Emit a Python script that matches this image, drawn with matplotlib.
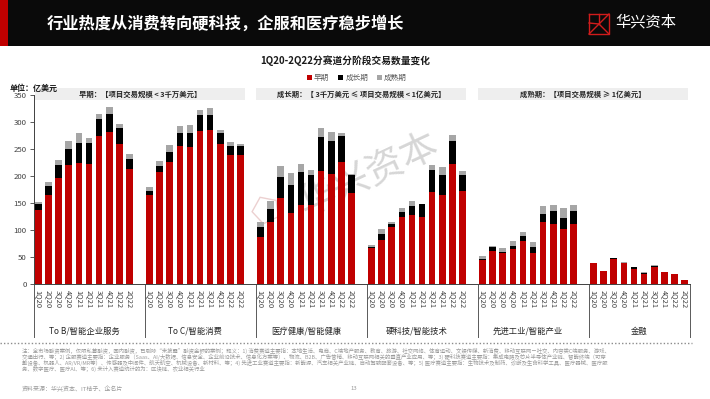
import matplotlib
matplotlib.use("Agg")
import matplotlib.pyplot as plt
from matplotlib.patches import Rectangle, Patch, Polygon
from matplotlib.lines import Line2D
import matplotlib.transforms as mtransforms
import numpy as np

plt.rcParams['font.family'] = ['Noto Sans CJK SC', 'DejaVu Sans']

# data (segment heights, 亿美元)
quarters = ['1Q20', '2Q20', '3Q20', '4Q20', '1Q21', '2Q21', '3Q21', '4Q21', '1Q22', '2Q22']
sectors = ['To B/智能企业服务', 'To C/智能消费', '医疗健康/智能健康',
           '硬科技/智能技术', '先进工业/智能产业', '金融']

tob_early = [137, 165, 197, 220, 224, 222, 274, 281, 260, 213]
tob_growth = [11, 16, 24, 30, 38, 40, 32, 34, 29, 19]
tob_mature = [4, 7, 8, 14, 18, 9, 9, 13, 8, 8]

toc_early = [165, 207, 226, 255, 253, 283, 285, 259, 239, 239]
toc_growth = [8, 11, 18, 24, 27, 30, 28, 21, 16, 16]
toc_mature = [6, 10, 13, 14, 15, 10, 12, 5, 8, 4]

med_early = [87, 115, 160, 132, 147, 146, 210, 204, 226, 169]
med_growth = [18, 23, 39, 51, 60, 55, 62, 60, 48, 33]
med_mature = [9, 16, 19, 22, 15, 11, 16, 18, 6, 2]

tech_early = [66, 82, 105, 124, 127, 125, 171, 165, 222, 173]
tech_growth = [3, 10, 6, 9, 18, 23, 40, 37, 43, 29]
tech_mature = [4, 9, 3, 8, 8, 0, 10, 14, 10, 7]

ind_early = [44, 62, 58, 64, 79, 58, 115, 112, 102, 111]
ind_growth = [3, 6, 2, 7, 10, 10, 15, 24, 21, 24]
ind_mature = [5, 3, 6, 8, 8, 9, 14, 10, 18, 11]

fin_early = [38, 24, 46, 39, 27, 18, 31, 22, 18, 7]
fin_growth = [1, 0, 3, 0, 5, 3, 3, 0, 1, 0]
fin_mature = [0.5, 0, 0, 1, 0, 1, 1, 1, 0, 0]

early = [tob_early, toc_early, med_early, tech_early, ind_early, fin_early]
growth = [tob_growth, toc_growth, med_growth, tech_growth, ind_growth, fin_growth]
mature = [tob_mature, toc_mature, med_mature, tech_mature, ind_mature, fin_mature]

stage_boxes = ['早期：【项目交易规模 < 3千万美元】',
               '成长期：【 3千万美元 ≤ 项目交易规模 < 1亿美元】',
               '成熟期：【项目交易规模 ≥ 1亿美元】']
stage_names = ['早期', '成长期', '成熟期']

RED = '#C00000'
BLACK = '#000000'
GRAY = '#A6A6A6'

W, H = 710, 399
fig = plt.figure(figsize=(W / 100, H / 100), dpi=100)
fig.patch.set_facecolor('white')


def fx(x):
    return x / W


def fy(y):
    return 1 - y / H


# header band
fig.add_artist(Rectangle((0, fy(46)), 1, 46 / H, transform=fig.transFigure,
                         facecolor='#0a0a0a', edgecolor='none'))
fig.add_artist(Rectangle((0, fy(46)), fx(8), 46 / H, transform=fig.transFigure,
                         facecolor=RED, edgecolor='none'))
fig.text(fx(47), fy(24), '行业热度从消费转向硬科技，企服和医疗稳步增长', color='white',
         fontsize=11.7, fontweight='bold', va='center', ha='left')

# logo
lx, ly, ls = 589, 14, 20
logo_pts = [
    [(lx, ly), (lx + ls, ly), (lx + ls, ly + ls), (lx, ly + ls), (lx, ly)],
    [(lx, ly + ls), (lx + ls, ly)],
    [(lx + ls * 0.5, ly + ls * 0.5), (lx + ls, ly + ls)],
    [(lx, ly + ls * 0.45), (lx + ls * 0.5, ly + ls * 0.5)],
    [(lx + ls * 0.5, ly), (lx + ls * 0.5, ly + ls * 0.5)],
]
for seg in logo_pts:
    xs = [fx(p[0]) for p in seg]
    ys = [fy(p[1]) for p in seg]
    fig.add_artist(Line2D(xs, ys, transform=fig.transFigure, color='#d01c1c', lw=1.0))
fig.text(fx(615), fy(22), '华兴资本', color='white', fontsize=11, fontweight='light',
         va='center', ha='left')

# chart title, unit, legend
fig.text(fx(345), fy(61), '1Q20-2Q22分赛道分阶段交易数量变化', fontsize=7,
         fontweight='bold', ha='center', va='center', color='#1a1a1a')
fig.text(fx(10), fy(88), '单位：亿美元', fontsize=5.8, fontweight='bold',
         ha='left', va='center', color='#1a1a1a')
handles = [Patch(facecolor=c, edgecolor='none') for c in (RED, BLACK, GRAY)]
fig.legend(handles, stage_names, loc='center', bbox_to_anchor=(fx(357), fy(78)),
           ncol=3, frameon=False, fontsize=5.5, handlelength=0.6, handleheight=0.6,
           handletextpad=0.3, columnspacing=1.2, labelcolor='#595959')

# stage header boxes
box_x = [(35, 245), (256, 466), (478, 688)]
for (x0, x1), label in zip(box_x, stage_boxes):
    fig.add_artist(Rectangle((fx(x0), fy(100)), fx(x1 - x0), 12 / H,
                             transform=fig.transFigure, facecolor='#eeeeee',
                             edgecolor='none'))
    fig.text(fx((x0 + x1) / 2), fy(94), label, fontsize=5.3, fontweight='bold',
             ha='center', va='center', color='#262626')

# main axes
ax_left, ax_right, ax_top, ax_bottom = 33.5, 689.5, 95, 284
ax = fig.add_axes([fx(ax_left), fy(ax_bottom), fx(ax_right - ax_left),
                   (ax_bottom - ax_top) / H])
ax.set_facecolor('none')

# watermark, behind the bars
ax.text(fx(368), fy(175), '华兴资本', transform=fig.transFigure, fontsize=27,
        fontweight='light', rotation=25, ha='center', va='center',
        color='#d6d6d6', zorder=1)
cx, cy, r = 266, 210, 14
ang = np.deg2rad(np.array([90, 162, 234, 306, 18]) + 25)
ax.add_patch(Polygon(np.column_stack([fx(cx + r * np.cos(ang)), fy(cy - r * np.sin(ang))]),
                     closed=True, transform=fig.transFigure, fill=False,
                     edgecolor='#ecd0d0', lw=1.0, zorder=1))

xpos, xlabels = [], []
for g in range(len(sectors)):
    x = np.arange(len(quarters)) + g * 11
    e = np.array(early[g], dtype=float)
    gr = np.array(growth[g], dtype=float)
    m = np.array(mature[g], dtype=float)
    ax.bar(x, e, width=0.66, color=RED, zorder=2)
    ax.bar(x, gr, width=0.66, bottom=e, color=BLACK, zorder=2)
    ax.bar(x, m, width=0.66, bottom=e + gr, color=GRAY, zorder=2)
    xpos.extend(x)
    xlabels.extend(quarters)

n_cat = 11 * len(sectors) - 1
ax.set_xlim(-0.5, n_cat - 0.5)
ax.set_ylim(0, 350)
ax.set_yticks(np.arange(0, 351, 50))
ax.tick_params(axis='y', labelsize=5.6, labelcolor='#404040', length=3,
               width=0.6, color='#404040', pad=2)
ax.set_xticks(xpos)
ax.set_xticklabels(xlabels, rotation=-90, fontsize=5.4, color='#404040')
ax.tick_params(axis='x', length=0, pad=4)
for s in ('top', 'right'):
    ax.spines[s].set_visible(False)
for s in ('left', 'bottom'):
    ax.spines[s].set_color('#404040')
    ax.spines[s].set_linewidth(0.7)

trans = mtransforms.blended_transform_factory(ax.transData, ax.transAxes)
sep_depth = -(337 - ax_bottom) / (ax_bottom - ax_top)
for b in [-0.5] + [g * 11 + 10.5 for g in range(len(sectors) - 1)] + [n_cat - 0.5]:
    ax.plot([b, b], [0, sep_depth], transform=trans, color='#595959', lw=0.7,
            clip_on=False)
for g, name in enumerate(sectors):
    ax.text(g * 11 + 4.5, -(331 - ax_bottom) / (ax_bottom - ax_top), name,
            transform=trans, ha='center', va='center', fontsize=6, color='#262626')

# footer
fig.add_artist(Line2D([0, fx(692)], [fy(343), fy(343)], transform=fig.transFigure,
                      color='#8c8c8c', lw=1.0, linestyle=(0, (1, 1.5))))
notes = [
    '注：全市场融资案例，仅限私募融资，国内融资，已剔除“未披露”融资金额的案例；释义：1) 消费赛道主要指：本地生活、电商、C端地产服务、教育、旅游、社交网络、体育运动、文娱传媒、新消费、移动互联网－社交、内容类C端服务、游戏、',
    '交通出行、等；2) 企服赛道主要指：企业服务（Saas、AI/大数据、信息安全、企业前沿技术、信息化方案等）、物流、B2B、广告营销、移动互联网相关的垂直产业应用、等；3) 硬科技赛道主要指：集成电路及芯片半导体产业链、智能终端（可穿',
    '戴设备、机器人、AR/VR/MR等）、传感器及中间件、航天航空、机械设备、新材料、等；4) 先进工业赛道主要指：新能源、汽车相关产业链、自动驾驶配套设备、等；5) 医疗赛道主要指：生物技术及制药、诊断及生命科学工具、医疗器械、医疗服',
    '务、数字医疗、医疗AI、等；6) 未计入赛道统计的为：区块链、农业相关行业',
]
for i, line in enumerate(notes):
    fig.text(fx(22), fy(350.5 + i * 6), line, fontsize=3.9, color='#9a9a9a',
             ha='left', va='center')
fig.text(fx(22), fy(389), '资料来源：华兴资本、IT桔子、企名片', fontsize=4.3,
         color='#9a9a9a', ha='left', va='center')
fig.text(fx(354), fy(389), '13', fontsize=4.3, color='#9a9a9a', ha='center',
         va='center')

fig.savefig('out.png', dpi=100)
